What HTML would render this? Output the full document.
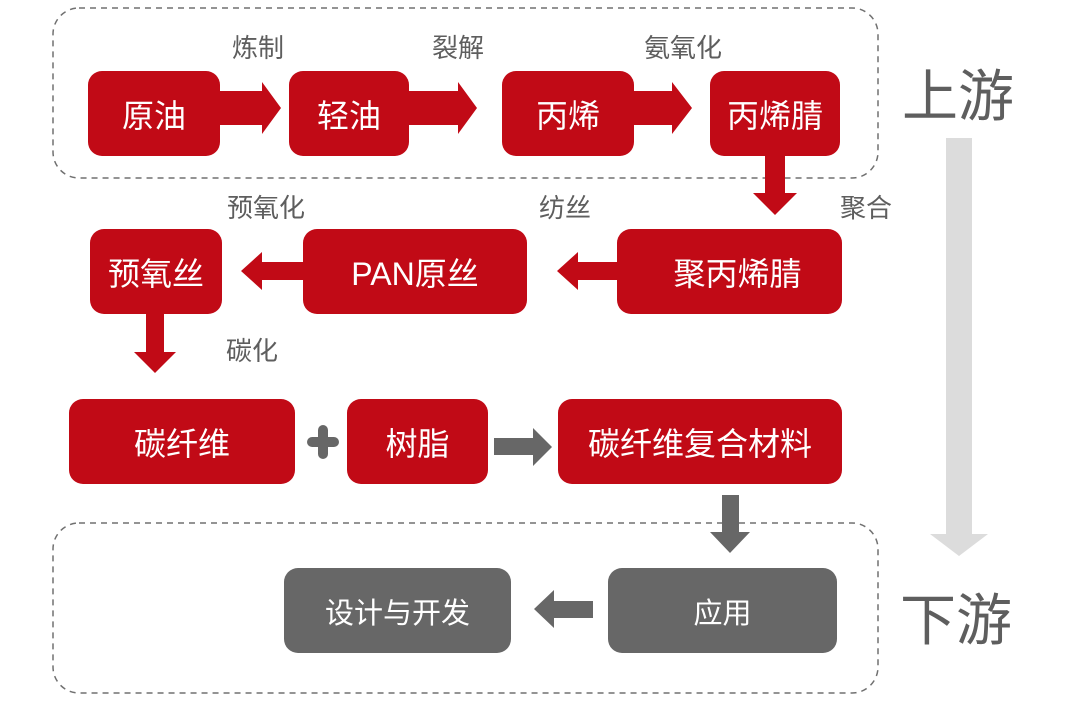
<!DOCTYPE html>
<html><head><meta charset="utf-8"><style>
*{margin:0;padding:0;box-sizing:border-box}
body{width:1080px;height:702px;background:#fff;position:relative;overflow:hidden;font-family:"Liberation Sans","Noto Sans CJK SC",sans-serif}
.b{position:absolute;border-radius:14px;color:#fff;display:flex;align-items:center;justify-content:center;font-size:32px;background:#c10a16}
.g{background:#676767;font-size:29px}
.l{position:absolute;color:#5e5e5e;font-size:26px;transform:translateX(-50%);white-space:nowrap}
svg{position:absolute;left:0;top:0}
</style></head><body>
<svg width="1080" height="702">
<rect x="53" y="8" width="825" height="170" rx="26" fill="none" stroke="#707070" stroke-width="1.5" stroke-dasharray="6,5"/>
<rect x="53" y="523" width="825" height="170" rx="26" fill="none" stroke="#707070" stroke-width="1.5" stroke-dasharray="6,5"/>
<g fill="#c10a16">
<polygon points="218,96 262,96 262,87 281,113 262,139 262,130 218,130" transform="translate(0,-5) scale(1,1)"/>
<polygon points="406,91 458,91 458,82 477,108 458,134 458,125 406,125" transform="translate(0,0)"/>
<polygon points="632,91 672,91 672,82 692,108 672,134 672,125 632,125"/>
<polygon points="765,153 785,153 785,193 797,193 775,215 753,193 765,193"/>
<polygon points="619,262 578,262 578,252 557,271 578,290 578,280 619,280"/>
<polygon points="305,262 262,262 262,252 241,271 262,290 262,280 305,280"/>
<polygon points="146,311 164,311 164,352 176,352 155,373 134,352 146,352"/>
</g>
<g fill="#676767">
<polygon points="494,438 533,438 533,428 552,447 533,466 533,455 494,455"/>
<polygon points="722,495 739,495 739,532 750,532 730,553 710,532 722,532"/>
<polygon points="593,601 554,601 554,590 534,609 554,628 554,618 593,618"/>
<rect x="307" y="437" width="32" height="10" rx="5"/>
<rect x="318" y="425" width="10" height="34" rx="5"/>
</g>
<polygon points="946,138 972,138 972,534 988,534 959,556 930,534 946,534" fill="#dcdcdc"/>
</svg>
<div class="b" style="left:88px;top:71px;width:132px;height:85px">原油</div>
<div class="b" style="left:289px;top:71px;width:120px;height:85px">轻油</div>
<div class="b" style="left:502px;top:71px;width:132px;height:85px">丙烯</div>
<div class="b" style="left:710px;top:71px;width:130px;height:85px">丙烯腈</div>
<div class="b" style="left:90px;top:229px;width:132px;height:85px">预氧丝</div>
<div class="b" style="left:303px;top:229px;width:224px;height:85px">PAN原丝</div>
<div class="b" style="left:617px;top:229px;width:225px;height:85px;padding-left:16px">聚丙烯腈</div>
<div class="b" style="left:69px;top:399px;width:226px;height:85px">碳纤维</div>
<div class="b" style="left:347px;top:399px;width:141px;height:85px">树脂</div>
<div class="b" style="left:558px;top:399px;width:284px;height:85px">碳纤维复合材料</div>
<div class="b g" style="left:284px;top:568px;width:227px;height:85px">设计与开发</div>
<div class="b g" style="left:608px;top:568px;width:229px;height:85px">应用</div>
<div class="l" style="left:258px;top:28px">炼制</div>
<div class="l" style="left:458px;top:28px">裂解</div>
<div class="l" style="left:683px;top:28px">氨氧化</div>
<div class="l" style="left:266px;top:188px">预氧化</div>
<div class="l" style="left:565px;top:188px">纺丝</div>
<div class="l" style="left:866px;top:188px">聚合</div>
<div class="l" style="left:252px;top:331px">碳化</div>
<div class="l" style="left:958px;top:52px;font-size:56px">上游</div>
<div class="l" style="left:956px;top:576px;font-size:56px">下游</div>
</body></html>
